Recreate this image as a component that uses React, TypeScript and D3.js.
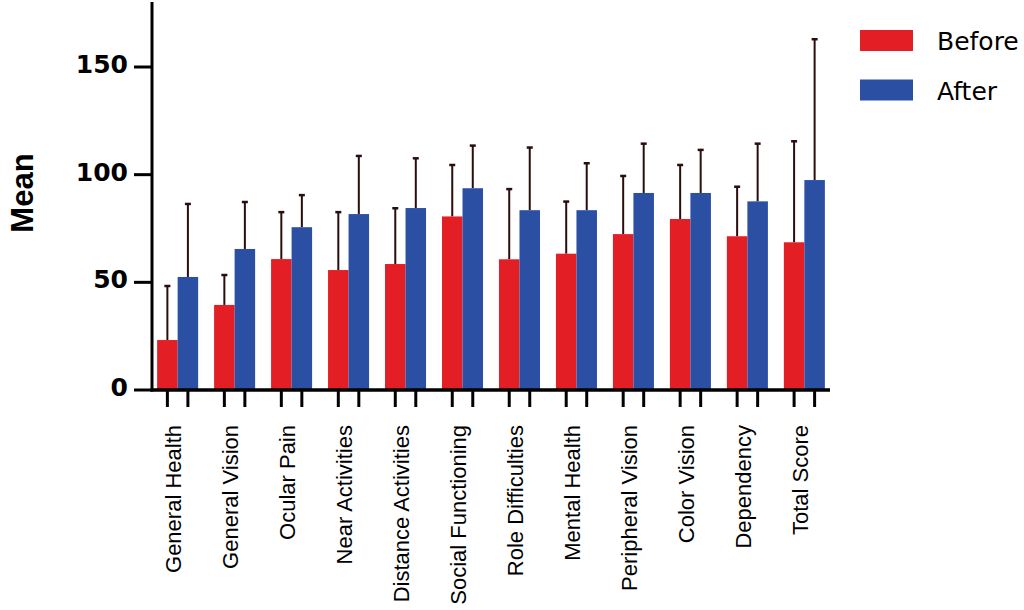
import React from "react";
import * as d3 from "d3";

const categories = [
  "General Health",
  "General Vision",
  "Ocular Pain",
  "Near Activities",
  "Distance Activities",
  "Social Functioning",
  "Role Difficulties",
  "Mental Health",
  "Peripheral Vision",
  "Color Vision",
  "Dependency",
  "Total Score",
];
const beforeMean = [23.2, 39.5, 60.8, 55.7, 58.5, 80.6, 60.7, 63.3, 72.4, 79.4, 71.4, 68.6];
const beforeErrTop = [48.3, 53.4, 82.6, 82.6, 84.4, 104.5, 93.3, 87.5, 99.4, 104.5, 94.4, 115.5];
const afterMean = [52.5, 65.5, 75.6, 81.7, 84.5, 93.7, 83.5, 83.5, 91.5, 91.5, 87.6, 97.5];
const afterErrTop = [86.4, 87.3, 90.5, 108.7, 107.6, 113.5, 112.6, 105.3, 114.4, 111.5, 114.4, 162.9];
const seriesNames = ["Before", "After"];
const yTicks = [0, 50, 100, 150];

const COLORS = ["#e31e24", "#2a4fa3"];
const ERR = "#2a0d0d";

export default function App() {
  const W = 1024;
  const H = 610;
  const axisX = 152;
  const axisY = 390;
  const y = d3.scaleLinear().domain([0, 180]).range([axisY, 2.4]);
  const x0 = d3.scaleBand<string>().domain(categories).range([axisX, 830]).paddingInner(0.28).paddingOuter(0.09);
  const x1 = d3.scaleBand<string>().domain(seriesNames).range([0, x0.bandwidth()]);
  const series = [
    { name: seriesNames[0], mean: beforeMean, err: beforeErrTop },
    { name: seriesNames[1], mean: afterMean, err: afterErrTop },
  ];
  const tickFont = "'DejaVu Sans', sans-serif";
  const labelFont = "'Liberation Sans', Arial, sans-serif";

  return (
    <svg width={W} height={H} style={{ position: "absolute", left: 0, top: 0, background: "#fff" }}>
      {/* bars */}
      {categories.map((c, i) => (
        <g key={c} transform={`translate(${x0(c)},0)`}>
          {series.map((s, si) => {
            const bx = x1(s.name)!;
            const bw = x1.bandwidth();
            const cx = bx + bw / 2;
            return (
              <g key={s.name}>
                <line x1={cx} x2={cx} y1={y(s.mean[i])} y2={y(s.err[i])} stroke={ERR} strokeWidth={2} />
                <line x1={cx - 3} x2={cx + 3} y1={y(s.err[i])} y2={y(s.err[i])} stroke={ERR} strokeWidth={2.5} />
                <rect x={bx} y={y(s.mean[i])} width={bw} height={axisY - y(s.mean[i])} fill={COLORS[si]} />
              </g>
            );
          })}
        </g>
      ))}
      {/* y axis */}
      <line x1={axisX} x2={axisX} y1={2} y2={axisY + 1.5} stroke="#000" strokeWidth={3} />
      {yTicks.map((t) => (
        <g key={t}>
          <line x1={axisX - 18} x2={axisX} y1={y(t)} y2={y(t)} stroke="#000" strokeWidth={3} />
          <text x={128} y={y(t) + 6} textAnchor="end" fontFamily={tickFont} fontWeight="bold" fontSize={25} fill="#000">
            {t}
          </text>
        </g>
      ))}
      <text
        transform={`translate(33,193) rotate(-90)`}
        textAnchor="middle"
        fontFamily={labelFont}
        fontWeight="bold"
        fontSize={31}
        fill="#000"
      >
        Mean
      </text>
      {/* x axis */}
      <line x1={axisX - 1.5} x2={830} y1={axisY} y2={axisY} stroke="#000" strokeWidth={3.5} />
      {categories.map((c) => (
        <g key={c}>
          {seriesNames.map((s) => {
            const cx = x0(c)! + x1(s)! + x1.bandwidth() / 2;
            return <line key={s} x1={cx} x2={cx} y1={axisY} y2={axisY + 17} stroke="#000" strokeWidth={3} />;
          })}
          <text
            transform={`translate(${x0(c)! + x0.bandwidth() / 2 - 4},${axisY + 35}) rotate(-90)`}
            textAnchor="end"
            dy="0.35em"
            fontFamily={labelFont}
            fontSize={22}
            fill="#000"
          >
            {c}
          </text>
        </g>
      ))}
      {/* legend */}
      {seriesNames.map((s, si) => (
        <g key={s} transform={`translate(860,${30 + si * 49.5})`}>
          <rect x={0} y={0} width={53} height={21} fill={COLORS[si]} />
          <text x={77} y={20} fontFamily={tickFont} fontSize={25} fill="#000">
            {s}
          </text>
        </g>
      ))}
    </svg>
  );
}
